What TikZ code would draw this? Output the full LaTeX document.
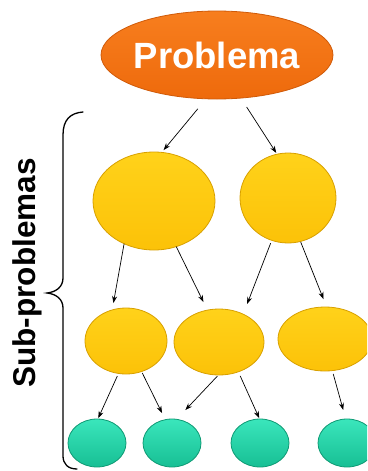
\documentclass[tikz,border=0pt]{standalone}
\usepackage{fontspec}
\setmainfont{Liberation Sans}
\usetikzlibrary{arrows.meta,shapes.geometric}
\definecolor{orgTop}{HTML}{F77E1E}
\definecolor{orgBot}{HTML}{EE6A0C}
\definecolor{orgLine}{HTML}{D05A08}
\definecolor{yelTop}{HTML}{FFD21A}
\definecolor{yelBot}{HTML}{FCC208}
\definecolor{yelLine}{HTML}{D8A000}
\definecolor{grnTop}{HTML}{3AE6BC}
\definecolor{grnBot}{HTML}{17BF94}
\definecolor{grnLine}{HTML}{0E9A74}
\tikzset{
  blob/.style={ellipse, inner sep=0pt, outer sep=0pt, line width=0.8pt},
  orangeblob/.style={blob, draw=orgLine, top color=orgTop, bottom color=orgBot},
  yellowblob/.style={blob, draw=yelLine, top color=yelTop, bottom color=yelBot},
  greenblob/.style={blob, draw=grnLine, top color=grnTop, bottom color=grnBot},
  arr/.style={line width=0.7pt, -{Stealth[length=7pt,width=5pt]}},
  bracepath/.style={line width=1.3pt, line cap=round}
}
\begin{document}
\begin{tikzpicture}[x=1pt, y=-1pt]
\useasboundingbox (0,0) rectangle (367,471);
\clip (0,0) rectangle (367,471);
\fill[white] (0,0) rectangle (367,471);
% nodes
\node[orangeblob, minimum width=232pt, minimum height=88pt] (P) at (217,55)
  {\makebox[0pt]{\fontsize{36.5}{40}\selectfont\bfseries\color{white}Problema}};
\node[yellowblob, minimum width=122pt, minimum height=98pt] (E1) at (154,201) {};
\node[yellowblob, minimum width=96pt, minimum height=90pt] (E2) at (288,198) {};
\node[yellowblob, minimum width=82pt, minimum height=66pt] (M1) at (126,341) {};
\node[yellowblob, minimum width=90pt, minimum height=66pt] (M2) at (219,342) {};
\node[yellowblob, minimum width=94pt, minimum height=64pt] (M3) at (325,339) {};
\node[greenblob, minimum width=58pt, minimum height=48pt] (G1) at (97,443) {};
\node[greenblob, minimum width=58pt, minimum height=48pt] (G2) at (172,443) {};
\node[greenblob, minimum width=58pt, minimum height=48pt] (G3) at (260,443) {};
\node[greenblob, minimum width=58pt, minimum height=48pt] (G4) at (347,443) {};
% connectors
\draw[arr, shorten <=13pt, shorten >=3pt] (P.-104.7) -- (E1.81.7);
\draw[arr, shorten <=10.6pt, shorten >=1.5pt] (P.-61.7) -- (E2.104.4);
\draw[arr, shorten <=0pt, shorten >=7pt] (E1.-125.5) -- (M1.114.8);
\draw[arr, shorten <=0pt, shorten >=9pt] (E1.-64.4) -- (M2.110.7);
\draw[arr, shorten <=3pt, shorten >=11pt] (E2.-111.8) -- (M2.49.4);
\draw[arr, shorten <=0.5pt, shorten >=8.5pt] (E2.-74.8) -- (M3.87.9);
\draw[arr, shorten <=2.9pt, shorten >=1pt] (M1.-103.5) -- (G1.88.8);
\draw[arr, shorten <=1.6pt, shorten >=7.4pt] (M1.-63.4) -- (G2.106);
\draw[arr, shorten <=1.4pt, shorten >=12.7pt] (M2.-91.8) -- (G2.79.8);
\draw[arr, shorten <=4.5pt, shorten >=1pt] (M2.-57.4) -- (G3.91.3);
\draw[arr, shorten <=3.5pt, shorten >=9.4pt] (M3.-77.4) -- (G4.93.6);
% brace
\draw[bracepath] (83,112) .. controls (70,113) and (63,120) .. (63,135)
  -- (63,278) .. controls (63,287) and (56,292) .. (47,293)
  .. controls (56,294) and (63,299) .. (63,308)
  -- (63,456) .. controls (63,464) and (68,469) .. (77,469);
% label
\node[rotate=90, anchor=base, inner sep=0pt, font=\fontsize{31.5}{34}\selectfont\bfseries] (L) at (35,273) {Sub-problemas};
\end{tikzpicture}
\end{document}
